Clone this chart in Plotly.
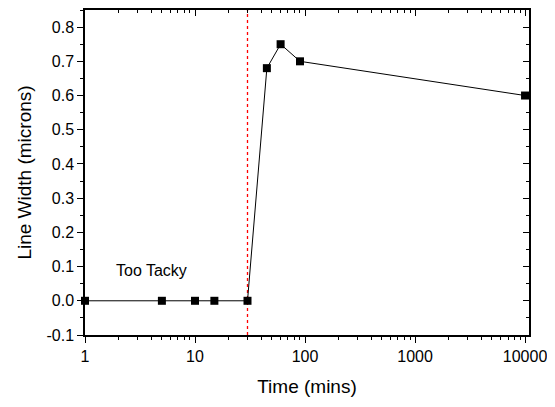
import math
import plotly.graph_objects as go

time_mins = [1, 5, 10, 15, 30, 45, 60, 90, 10000]
line_width = [0.0, 0.0, 0.0, 0.0, 0.0, 0.68, 0.75, 0.70, 0.60]
threshold_time = 30
x_tick_vals = [1, 10, 100, 1000, 10000]
x_tick_text = ["1", "10", "100", "1000", "10000"]
y_tick_vals = [-0.1, 0.0, 0.1, 0.2, 0.3, 0.4, 0.5, 0.6, 0.7, 0.8]
y_tick_text = ["-0.1", "0.0", "0.1", "0.2", "0.3", "0.4", "0.5", "0.6", "0.7", "0.8"]
annotation_text = "Too Tacky"
annotation_x = 4.0
annotation_y = 0.09

FONT = "Liberation Sans, Arial, sans-serif"

fig = go.Figure()
fig.add_trace(go.Scatter(
    x=[threshold_time, threshold_time], y=[-0.1, 0.85], mode="lines",
    line=dict(color="#ff0000", width=1.3, dash="dot"), showlegend=False,
))
fig.add_trace(go.Scatter(
    x=time_mins, y=line_width, mode="lines+markers",
    line=dict(color="black", width=1),
    marker=dict(symbol="square", size=8, color="black"),
    showlegend=False, cliponaxis=False,
))
# mirrored axes with inside ticks (top/right)
fig.add_trace(go.Scatter(x=[1], y=[0], xaxis="x2", yaxis="y2", mode="none",
                         showlegend=False, hoverinfo="skip"))

xr = [0, 4.036]
yr = [-0.1, 0.85]
minor_x = [m * 10**d for d in range(4) for m in range(2, 10)]
common = dict(showgrid=False, zeroline=False, showline=True, linecolor="black",
              linewidth=1.5, tickcolor="black", tickwidth=1, automargin=False,
              tickfont=dict(family=FONT, size=16, color="black"))
fig.update_layout(
    width=547, height=399,
    margin=dict(l=77, r=26, t=2, b=72),
    plot_bgcolor="white", paper_bgcolor="white",
    font=dict(family=FONT, color="black"),
    xaxis=dict(type="log", range=xr, tickvals=x_tick_vals, ticktext=x_tick_text,
               ticks="outside", ticklen=6,
               minor=dict(ticks="outside", ticklen=3, tickcolor="black", tickvals=minor_x),
               title=dict(text="Time (mins)", font=dict(family=FONT, size=19), standoff=16),
               **common),
    yaxis=dict(range=yr, tickvals=y_tick_vals, ticktext=y_tick_text,
               ticks="outside", ticklen=6,
               minor=dict(ticks="outside", ticklen=3, tickcolor="black", dtick=0.05, tick0=0.05),
               title=dict(text="Line Width (microns)", font=dict(family=FONT, size=19), standoff=10),
               **common),
    xaxis2=dict(type="log", range=xr, overlaying="x", side="top", showticklabels=False,
                tickvals=x_tick_vals, ticks="inside", ticklen=6,
                minor=dict(ticks="inside", ticklen=3, tickcolor="black", tickvals=minor_x),
                **common),
    yaxis2=dict(range=yr, overlaying="y", side="right", showticklabels=False,
                tickvals=y_tick_vals, ticks="inside", ticklen=6,
                minor=dict(ticks="inside", ticklen=3, tickcolor="black", dtick=0.05, tick0=0.05),
                **common),
    annotations=[dict(x=math.log10(annotation_x), y=annotation_y, xref="x", yref="y",
                      text=annotation_text, showarrow=False,
                      font=dict(family=FONT, size=16, color="black"))],
)
fig.write_html("out.html")
